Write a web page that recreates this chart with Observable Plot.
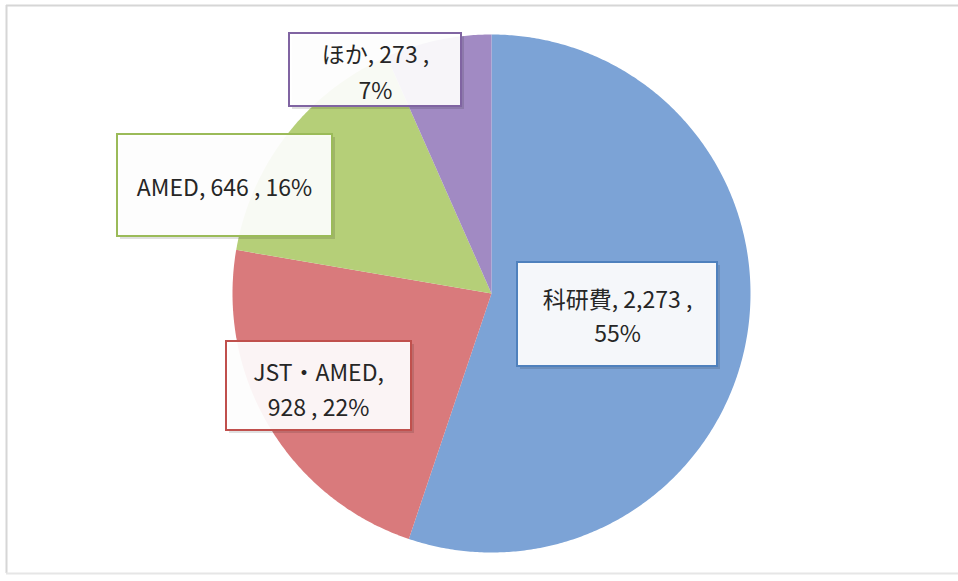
<!DOCTYPE html>
<html><head><meta charset="utf-8">
<script src="https://cdn.jsdelivr.net/npm/d3@7"></script>
<script src="https://cdn.jsdelivr.net/npm/@observablehq/plot@0.6"></script>
<style>body{margin:0;background:#fff;overflow:hidden} svg{display:block}</style>
</head><body><div id="chart"></div>
<script>
// ---- data ----
const categories = ["科研費", "JST・AMED", "AMED", "ほか"];
const values = [2273, 928, 646, 273];
const valueLabels = ["2,273", "928", "646", "273"];
const percentLabels = ["55%", "22%", "16%", "7%"];

// ---- styles ----
const sliceColors = ["#7ca3d6", "#d97a7c", "#b5cf78", "#a18ac3"];
const borderColors = ["#4f81bd", "#c0504d", "#9bbb59", "#8064a2"];

// ---- layout ----
const W = 958, H = 581, cx = 491, cy = 293, R = 259;
// label boxes: [x1, y1, x2, y2], line break mode, line y positions
const labelLayout = [
  {box: [517, 262, 717, 366], brk: "afterValue", tx: 617, ty: [300, 334]},
  {box: [226, 341, 411, 430], brk: "afterName", tx: 318, ty: [373, 408]},
  {box: [117, 134, 332, 236], brk: "none", tx: 224, ty: [188]},
  {box: [289, 33, 461, 106], brk: "afterValue", tx: 375, ty: [55, 91]}
];

// ---- slice polygons ----
const total = d3.sum(values);
const slicePts = [];
let acc = 0;
categories.forEach((c, i) => {
  const a0 = acc / total * 2 * Math.PI;
  acc += values[i];
  const a1 = acc / total * 2 * Math.PI;
  slicePts.push({cat: c, x: cx, y: cy});
  const n = Math.max(2, Math.ceil((a1 - a0) / (Math.PI / 360)));
  for (let k = 0; k <= n; k++) {
    const a = a0 + (a1 - a0) * k / n;
    slicePts.push({cat: c, x: cx + R * Math.sin(a), y: cy - R * Math.cos(a)});
  }
});

// ---- label lines ----
const textLines = [];
const boxes = [];
categories.forEach((c, i) => {
  const L = labelLayout[i];
  let lines;
  if (L.brk === "afterValue") lines = [`${c}, ${valueLabels[i]} ,`, percentLabels[i]];
  else if (L.brk === "afterName") lines = [`${c},`, `${valueLabels[i]} , ${percentLabels[i]}`];
  else lines = [`${c}, ${valueLabels[i]} , ${percentLabels[i]}`];
  lines.forEach((t, j) => textLines.push({text: t, x: L.tx, y: L.ty[j]}));
  boxes.push({cat: c, x1: L.box[0], y1: L.box[1], x2: L.box[2], y2: L.box[3], stroke: borderColors[i]});
});

const font = "'Noto Sans CJK JP', 'Noto Sans', sans-serif";

const marks = [
  Plot.ruleX([6], {y1: 5, y2: 573, stroke: "#d6d6d6", strokeWidth: 2}),
  Plot.ruleY([5], {x1: 6, x2: W, stroke: "#d6d6d6", strokeWidth: 2}),
  Plot.ruleY([573], {x1: 6, x2: W, stroke: "#e6e6e6", strokeWidth: 2}),
  Plot.line(slicePts, {x: "x", y: "y", z: "cat", fill: "cat", stroke: "none", curve: "linear-closed"}),
  Plot.rect(boxes, {x1: "x1", y1: "y1", x2: "x2", y2: "y2", dx: 3, dy: 3, fill: "#000", fillOpacity: 0.12})
];
boxes.forEach(b => {
  marks.push(Plot.rect([b], {x1: "x1", y1: "y1", x2: "x2", y2: "y2", fill: "#fff", fillOpacity: 0.93, stroke: b.stroke, strokeWidth: 2}));
});
marks.push(Plot.text(textLines, {x: "x", y: "y", text: "text", fontSize: 23, fill: "#262626", fontFamily: font}));

const chart = Plot.plot({
  width: W, height: H,
  margin: 0,
  x: {domain: [0, W], range: [0, W], axis: null},
  y: {domain: [0, H], range: [0, H], axis: null},
  color: {domain: categories, range: sliceColors},
  style: {background: "#fff", fontFamily: font, overflow: "hidden"},
  marks
});
document.getElementById("chart").appendChild(chart);
</script>
</body></html>
